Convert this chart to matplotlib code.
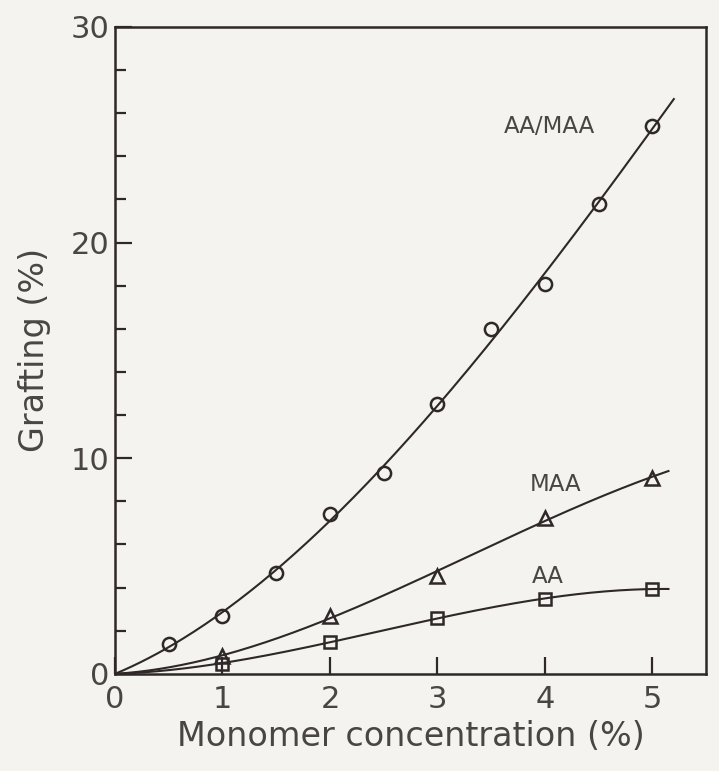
import numpy as np
import matplotlib.pyplot as plt

# grafting yield vs monomer concentration
conc_aamaa = [0.5, 1, 1.5, 2, 2.5, 3, 3.5, 4, 4.5, 5]
graft_aamaa = [1.4, 2.7, 4.7, 7.4, 9.3, 12.5, 16.0, 18.1, 21.8, 25.4]
conc_maa = [1, 2, 3, 4, 5]
graft_maa = [0.85, 2.7, 4.55, 7.25, 9.1]
conc_aa = [1, 2, 3, 4, 5]
graft_aa = [0.45, 1.5, 2.6, 3.45, 3.95]

curve_labels = ["AA/MAA", "MAA", "AA"]
x_ticks = [0, 1, 2, 3, 4, 5]
y_ticks = [0, 10, 20, 30]

INK = "#2e2828"
TEXT = "#4a4545"
PAPER = "#f5f3f0"


def smooth_curve(x, y, x_end):
    # cubic through the origin, least squares on the measured points
    x = np.asarray(x, float)
    y = np.asarray(y, float)
    A = np.column_stack([x, x**2, x**3])
    coef, *_ = np.linalg.lstsq(A, y, rcond=None)
    xs = np.linspace(0, x_end, 200)
    ys = coef[0]*xs + coef[1]*xs**2 + coef[2]*xs**3
    return xs, ys


fig = plt.figure(figsize=(7.19, 7.71), dpi=100, facecolor=PAPER)
ax = fig.add_axes([0.160, 0.126, 0.822, 0.839], facecolor=PAPER)

series = [
    (conc_aamaa, graft_aamaa, "o", 9.5, 5.2),
    (conc_maa, graft_maa, "^", 9.5, 5.15),
    (conc_aa, graft_aa, "s", 8.0, 5.15),
]
for x, y, mk, ms, x_end in series:
    xs, ys = smooth_curve(x, y, x_end)
    ax.plot(xs, ys, color=INK, lw=1.5, zorder=2)
    ax.plot(x, y, ls="none", marker=mk, ms=ms, mfc="none", mec=INK,
            mew=1.8, zorder=3)

ax.text(3.62, 25.4, curve_labels[0], fontsize=16.5, color=TEXT, va="center", ha="left")
ax.text(3.86, 8.8, curve_labels[1], fontsize=16.5, color=TEXT, va="center", ha="left")
ax.text(3.88, 4.5, curve_labels[2], fontsize=16.5, color=TEXT, va="center", ha="left")

ax.set_xlim(0, 5.5)
ax.set_ylim(0, 30)
ax.set_xticks(x_ticks)
ax.set_yticks(y_ticks)
ax.set_yticks(np.arange(0, 31, 2), minor=True)
ax.tick_params(axis="both", which="major", direction="in", length=12, width=1.6,
               color=INK, labelsize=22, labelcolor=TEXT)
ax.tick_params(axis="y", which="minor", direction="in", length=8, width=1.6, color=INK)
ax.tick_params(axis="x", pad=8)
ax.tick_params(axis="y", pad=4)
for s in ax.spines.values():
    s.set_linewidth(1.8)
    s.set_color(INK)

ax.set_xlabel("Monomer concentration (%)", fontsize=24, color=TEXT, labelpad=4)
ax.set_ylabel("Grafting (%)", fontsize=24, color=TEXT, labelpad=14)

fig.savefig("out.png", dpi=100, facecolor=PAPER)
